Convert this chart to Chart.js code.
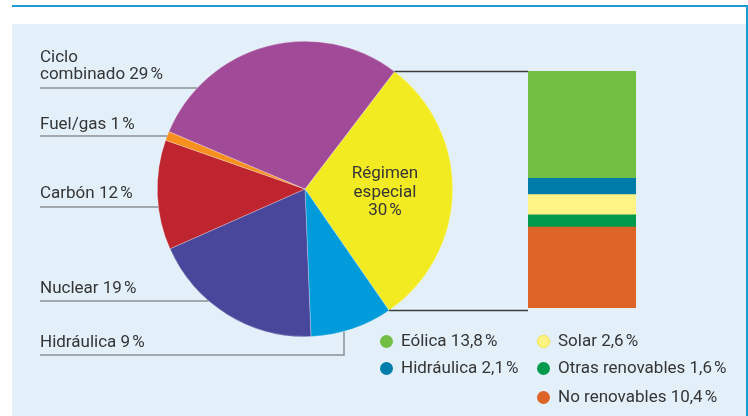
<!DOCTYPE html>
<html>
<head>
<meta charset="utf-8">
<script src="https://cdn.jsdelivr.net/npm/chart.js@4"></script>
<style>
  html, body { margin:0; padding:0; width:748px; height:416px; overflow:hidden; background:#fff; }
  body { position:relative; font-family: Roboto, "DejaVu Sans", sans-serif; color:#353535; }
  #topline { position:absolute; left:12px; top:5px; width:736px; height:2px; background:#1b9ad6; }
  #rightline { position:absolute; left:746px; top:5px; width:2px; height:411px; background:#1b9ad6; }
  #panel { position:absolute; left:12px; top:24px; width:734px; height:392px; background:#e3f0fa; }
  canvas { position:absolute; }
  .lbl { position:absolute; font-size:17px; line-height:17px; white-space:nowrap; }
  #center { position:absolute; width:100px; text-align:center; font-size:17px; line-height:18.5px; }
  .leg { position:absolute; font-size:17px; line-height:19px; white-space:nowrap; }
  .dot { position:absolute; width:13px; height:13px; border-radius:50%; box-sizing:border-box; }
</style>
</head>
<body>
<div id="panel"></div>
<div id="topline"></div>
<div id="rightline"></div>
<canvas id="pie" width="748" height="416" style="left:0;top:0;width:748px;height:416px"></canvas>
<canvas id="bar" width="108" height="237" style="left:528px;top:71px;width:108px;height:237px"></canvas>
<div id="labels"></div>
<div id="center">Régimen<br>especial<br>30&#8239;%</div>
<div id="legend"></div>
<script>
// ---- data ----
const pieLabels = ['Régimen especial', 'Hidráulica', 'Nuclear', 'Carbón', 'Fuel/gas', 'Ciclo combinado'];
const pieValues = [30, 9, 19, 12, 1, 29];
const pieColors = ['#f2eb22', '#009bda', '#48479b', '#bf252e', '#f7901e', '#a14a98'];

const barLabels = ['Eólica', 'Hidráulica', 'Solar', 'Otras renovables', 'No renovables'];
const barValues = [13.8, 2.1, 2.6, 1.6, 10.4];
const barColors = ['#72bf44', '#007cab', '#fff385', '#009a4d', '#dd6327'];

const leftLabelText = ['Ciclo<br>combinado 29\u202F%', 'Fuel/gas 1\u202F%', 'Carbón 12\u202F%', 'Nuclear 19\u202F%', 'Hidráulica 9\u202F%'];
const legendText = ['Eólica 13,8\u202F%', 'Hidráulica 2,1\u202F%', 'Solar 2,6\u202F%', 'Otras renovables 1,6\u202F%', 'No renovables 10,4\u202F%'];

// ---- layout (positions only) ----
const leftLabelTop = [48, 115, 184, 279, 333];
const leftLineY = [88, 136, 207, 301, 355];
const hidroVertX = 344;
const BAR_LEFT = 528;
const legendPos = [[386, 341], [386, 368], [543, 341], [543, 368], [543, 397]];

// labels
const labelsDiv = document.getElementById('labels');
leftLabelText.forEach((t, i) => {
  const d = document.createElement('div');
  d.className = 'lbl';
  d.style.left = '40px';
  d.style.top = leftLabelTop[i] + 'px';
  d.innerHTML = t;
  labelsDiv.appendChild(d);
});
const c = document.getElementById('center');
c.style.left = '335px'; c.style.top = '163px';

// legend
const legDiv = document.getElementById('legend');
legendText.forEach((t, i) => {
  const [x, y] = legendPos[i];
  const dot = document.createElement('div');
  dot.className = 'dot';
  dot.style.left = (x - 6.5) + 'px';
  dot.style.top = (y - 6.5) + 'px';
  dot.style.background = barColors[i];
  if (i === 2) dot.style.border = '1.5px solid #f3e02e';
  legDiv.appendChild(dot);
  const d = document.createElement('div');
  d.className = 'leg';
  d.style.left = (x + 15) + 'px';
  d.style.top = (y - 10) + 'px';
  d.textContent = t;
  legDiv.appendChild(d);
});

// ---- leader lines plugin ----
const leaders = {
  id: 'leaders',
  afterDatasetsDraw(chart) {
    const ctx = chart.ctx;
    const arcs = chart.getDatasetMeta(0).data;
    const a0 = arcs[0];
    const cx = a0.x, cy = a0.y, r = a0.outerRadius;
    ctx.save();
    // left labels
    ctx.strokeStyle = '#8c8f93';
    ctx.lineWidth = 1.5;
    leftLineY.forEach((y, i) => {
      ctx.beginPath();
      if (i === leftLineY.length - 1) {
        const dx = hidroVertX - cx;
        const yEdge = cy + Math.sqrt(r * r - dx * dx);
        ctx.moveTo(40, y);
        ctx.lineTo(hidroVertX, y);
        ctx.lineTo(hidroVertX, yEdge);
      } else {
        const dy = y - cy;
        const xEdge = cx - Math.sqrt(Math.max(0, r * r - dy * dy));
        ctx.moveTo(40, y);
        ctx.lineTo(xEdge, y);
      }
      ctx.stroke();
    });
    // connectors from régimen especial slice to bar
    ctx.strokeStyle = '#3d3d3d';
    ctx.lineWidth = 1.5;
    [a0.startAngle, a0.endAngle].forEach(a => {
      const px = cx + r * Math.cos(a), py = cy + r * Math.sin(a);
      ctx.beginPath();
      ctx.moveTo(px, py);
      ctx.lineTo(BAR_LEFT, py);
      ctx.stroke();
    });
    ctx.restore();
  }
};

new Chart(document.getElementById('pie'), {
  type: 'pie',
  data: {
    labels: pieLabels,
    datasets: [{ data: pieValues, backgroundColor: pieColors, borderWidth: 0.6, borderColor: 'rgba(255,255,255,0.45)' }]
  },
  options: {
    responsive: false,
    devicePixelRatio: 1,
    animation: false,
    rotation: 37.3,
    layout: { padding: { left: 157, right: 295, top: 41, bottom: 79 } },
    plugins: { legend: { display: false }, tooltip: { enabled: false } }
  },
  plugins: [leaders]
});

const barDatasets = barLabels.map((l, i) => ({
  label: l, data: [barValues[i]], backgroundColor: barColors[i], borderWidth: 0,
  barPercentage: 1, categoryPercentage: 1
})).reverse();
const barTotal = barValues.reduce((s, v) => s + v, 0);

new Chart(document.getElementById('bar'), {
  type: 'bar',
  data: { labels: ['Régimen especial'], datasets: barDatasets },
  options: {
    responsive: false,
    devicePixelRatio: 1,
    animation: false,
    layout: { padding: 0 },
    scales: {
      x: { stacked: true, display: false },
      y: { stacked: true, display: false, min: 0, max: barTotal }
    },
    plugins: { legend: { display: false }, tooltip: { enabled: false } }
  }
});
</script>
</body>
</html>
